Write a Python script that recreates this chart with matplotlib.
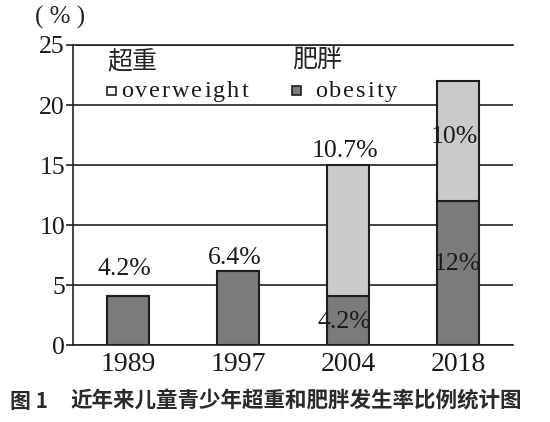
import numpy as np
import matplotlib
matplotlib.use("Agg")
import matplotlib.pyplot as plt
from matplotlib.patches import Rectangle

# data
years = ["1989", "1997", "2004", "2018"]
obesity = [4.1, 6.2, 4.1, 12.0]
overweight = [0.0, 0.0, 10.9, 10.0]
obesity_labels = ["4.2%", "6.4%", "4.2%", "12%"]
overweight_labels = ["", "", "10.7%", "10%"]
y_ticks = [0, 5, 10, 15, 20, 25]

dark = "#7b7b7b"
light = "#cacaca"
edge = "#1e1e1e"
serif = ["Liberation Serif", "DejaVu Serif"]
cjk = ["Noto Sans CJK SC", "DejaVu Sans"]
W, H = 550.0, 422.0

fig = plt.figure(figsize=(5.5, 4.22), dpi=100)
ax = fig.add_axes([0.1333, 0.1818, 0.7994, 0.7116])
renderer = fig.canvas.get_renderer()


def spaced_text(x0, y0, s, gap, **kw):
    # draw text letter by letter with extra spacing (pixels)
    xp = x0
    for ch in s:
        t = fig.text(xp / W, 1 - y0 / H, ch, ha="left", va="baseline", **kw)
        xp += t.get_window_extent(renderer).width + gap


x = np.arange(len(years))
ax.bar(x, obesity, width=0.38, color=dark, edgecolor=edge, linewidth=1.5, zorder=3)
ax.bar(x, overweight, bottom=obesity, width=0.38, color=light, edgecolor=edge,
       linewidth=1.5, zorder=3)

ax.set_xlim(-0.5, 3.5)
ax.set_ylim(0, 25)
ax.set_yticks(y_ticks)
ax.set_xticks(x)
ax.set_xticklabels(years, fontsize=20, family=serif, color="#1a1a1a")
ax.set_yticklabels([str(v) for v in y_ticks], fontsize=18.5, family=serif, color="#1a1a1a")
ax.tick_params(axis="x", length=0, pad=5)
ax.tick_params(axis="y", length=5, width=1.2, pad=1, color="#222222")
ax.yaxis.grid(True, color="#222222", linewidth=1.2, zorder=0)
ax.set_axisbelow(True)
for s in ["left", "bottom", "top"]:
    ax.spines[s].set_color("#222222")
    ax.spines[s].set_linewidth(1.2)
ax.spines["right"].set_visible(False)

# value labels (placed by hand as in the original)
lab = dict(fontsize=18.5, family=serif, color="#1a1a1a", ha="center", va="baseline", zorder=5)
ax.text(x[0] - 0.04, 5.85, obesity_labels[0], **lab)
ax.text(x[1] - 0.03, 6.8, obesity_labels[1], **lab)
ax.text(x[2] - 0.03, 1.44, obesity_labels[2], **lab)
ax.text(x[3] - 0.01, 6.27, obesity_labels[3], **lab)
ax.text(x[2] - 0.03, 15.7, overweight_labels[2], **lab)
ax.text(x[3] - 0.03, 16.86, overweight_labels[3], **lab)

# legend drawn by hand
fig.text(107 / W, 1 - 61 / H, "超重", fontsize=18, family=cjk, color="#222222",
         ha="left", va="center")
fig.text(292 / W, 1 - 61 / H, "肥胖", fontsize=18, family=cjk, color="#222222",
         ha="left", va="center")
fig.add_artist(Rectangle((107 / W, 1 - 95 / H), 8.5 / W, 8.5 / H, transform=fig.transFigure,
                         facecolor="white", edgecolor=edge, linewidth=1.2))
fig.add_artist(Rectangle((292 / W, 1 - 95 / H), 9 / W, 9 / H, transform=fig.transFigure,
                         facecolor=dark, edgecolor=edge, linewidth=1.2))
spaced_text(121, 96.7, "overweight", 2.0, fontsize=17.5, family=serif, color="#1a1a1a")
spaced_text(315, 96.7, "obesity", 2.0, fontsize=17.5, family=serif, color="#1a1a1a")

# unit and caption
fig.text(60 / W, 1 - 17 / H, "( % )", fontsize=18, family=serif, color="#222222",
         ha="center", va="center")
fig.text(10 / W, 1 - 401.5 / H, "图 1", fontsize=15, family=cjk, weight="bold",
         color="#2a2a2a", ha="left", va="center")
fig.text(70 / W, 1 - 401.5 / H, "近年来儿童青少年超重和肥胖发生率比例统计图", fontsize=15.5,
         family=cjk, weight="bold", color="#2a2a2a", ha="left", va="center")

fig.savefig("out.png", dpi=100)
